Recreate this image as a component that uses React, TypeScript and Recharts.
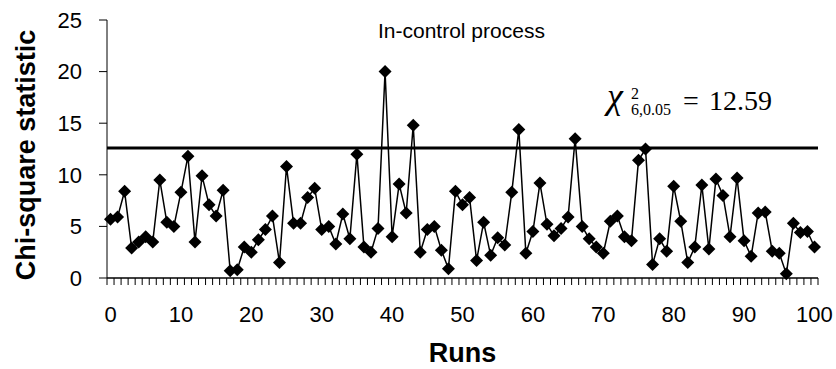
import { LineChart, Line, XAxis, YAxis, ReferenceLine } from 'recharts';

// chi-square statistic for each run (0..100)
const CHI_SQUARE = [
  5.7, 5.9, 8.4, 2.9, 3.5, 4.0, 3.5, 9.5, 5.4, 5.0,
  8.3, 11.8, 3.5, 9.9, 7.1, 6.0, 8.5, 0.7, 0.8, 3.0,
  2.5, 3.7, 4.7, 6.0, 1.5, 10.8, 5.3, 5.3, 7.8, 8.7,
  4.7, 5.0, 3.3, 6.2, 3.8, 12.0, 3.0, 2.5, 4.8, 20.0,
  4.0, 9.1, 6.3, 14.8, 2.5, 4.7, 5.0, 2.7, 0.9, 8.4,
  7.1, 7.8, 1.7, 5.4, 2.2, 3.9, 3.2, 8.3, 14.4, 2.4,
  4.5, 9.2, 5.2, 4.1, 4.8, 5.9, 13.5, 5.0, 3.8, 3.0,
  2.4, 5.5, 6.0, 4.0, 3.6, 11.4, 12.5, 1.3, 3.8, 2.6,
  8.9, 5.5, 1.5, 3.0, 9.0, 2.8, 9.6, 8.0, 4.0, 9.7,
  3.6, 2.1, 6.3, 6.4, 2.6, 2.4, 0.4, 5.3, 4.4, 4.5,
  3.0,
];

const CONTROL_LIMIT = 12.59;
const RUN_LABEL_STEP = 10;
const Y_TICKS = [0, 5, 10, 15, 20, 25];
const TITLE = 'In-control process';
const X_TITLE = 'Runs';

const data = CHI_SQUARE.map((chi, run) => ({ run, chi }));
// category boundaries: a small tick mark between every two runs
const boundaryTicks = Array.from({ length: CHI_SQUARE.length + 1 }, (_, i) => i - 0.5);

const sans = '"Liberation Sans", Arial, sans-serif';
const serif = '"Liberation Serif", "Times New Roman", serif';

function Diamond(props: any) {
  const { cx, cy, index } = props;
  if (cx == null || cy == null) return null;
  const r = 6.5;
  return (
    <path
      key={`d-${index}`}
      d={`M${cx},${cy - r}L${cx + r},${cy}L${cx},${cy + r}L${cx - r},${cy}Z`}
      fill="#000"
    />
  );
}

// label half a category to the right of its boundary tick
function RunTick(props: any) {
  const { x, y, width, payload } = props;
  const run = payload.value + 0.5;
  const showLabel = run % RUN_LABEL_STEP === 0 && run <= CHI_SQUARE.length - 1;
  const half = width / CHI_SQUARE.length / 2;
  return (
    <g>
      {showLabel && (
        <text x={x + half} y={y} dy="0.71em" textAnchor="middle" fill="#000" fontSize={22} fontFamily={sans}>
          {run}
        </text>
      )}
    </g>
  );
}

function LimitLabel(props: any) {
  const vb = props.viewBox || {};
  const x = vb.x + 500;
  const y = vb.y;
  return (
    <g fill="#000" fontFamily={serif}>
      <text x={x} y={y - 40} fontSize={36} fontStyle="italic">χ</text>
      <text x={x + 24} y={y - 49} fontSize={16}>2</text>
      <text x={x + 24} y={y - 33} fontSize={16}>6,0.05</text>
      <text x={x + 76} y={y - 38} fontSize={28}>=</text>
      <text x={x + 102} y={y - 38} fontSize={28}>12.59</text>
    </g>
  );
}

export default function App() {
  return (
    <div style={{ position: 'absolute', left: 0, top: 0, width: 836, height: 369, background: '#fff' }}>
      <LineChart width={836} height={369} data={data} margin={{ top: 20, right: 18, left: 0, bottom: 4 }}>
        <XAxis
          dataKey="run"
          type="number"
          domain={[-0.5, 100.5]}
          ticks={boundaryTicks}
          interval={0}
          tick={RunTick}
          axisLine={{ stroke: '#000', strokeWidth: 1.5 }}
          tickLine={{ stroke: '#000', strokeWidth: 1 }}
          tickSize={7}
          tickMargin={21}
          height={87}
        />
        <YAxis
          type="number"
          domain={[0, 25]}
          ticks={Y_TICKS}
          interval={0}
          width={107}
          tickSize={8}
          tickMargin={17}
          axisLine={{ stroke: '#000' }}
          tickLine={{ stroke: '#000' }}
          tick={{ fill: '#000', fontSize: 22, fontFamily: sans }}
          label={{
            value: 'Chi-square statistic',
            angle: -90,
            position: 'center',
            dx: -28,
            dy: 6,
            style: { fill: '#000', fontSize: 27, fontWeight: 'bold', fontFamily: sans },
          }}
        />
        <ReferenceLine y={CONTROL_LIMIT} stroke="#000" strokeWidth={3} label={<LimitLabel />} />
        <Line
          dataKey="chi"
          stroke="#000"
          strokeWidth={1.5}
          dot={<Diamond />}
          activeDot={false}
          isAnimationActive={false}
        />
      </LineChart>
      <div
        style={{
          position: 'absolute',
          left: 378,
          top: 20,
          fontFamily: sans,
          fontSize: 21,
          lineHeight: '21px',
          color: '#000',
          whiteSpace: 'nowrap',
        }}
      >
        {TITLE}
      </div>
      <div
        style={{
          position: 'absolute',
          left: 107,
          width: 711,
          top: 340,
          textAlign: 'center',
          fontFamily: sans,
          fontSize: 27,
          fontWeight: 'bold',
          lineHeight: '27px',
          color: '#000',
        }}
      >
        {X_TITLE}
      </div>
    </div>
  );
}
